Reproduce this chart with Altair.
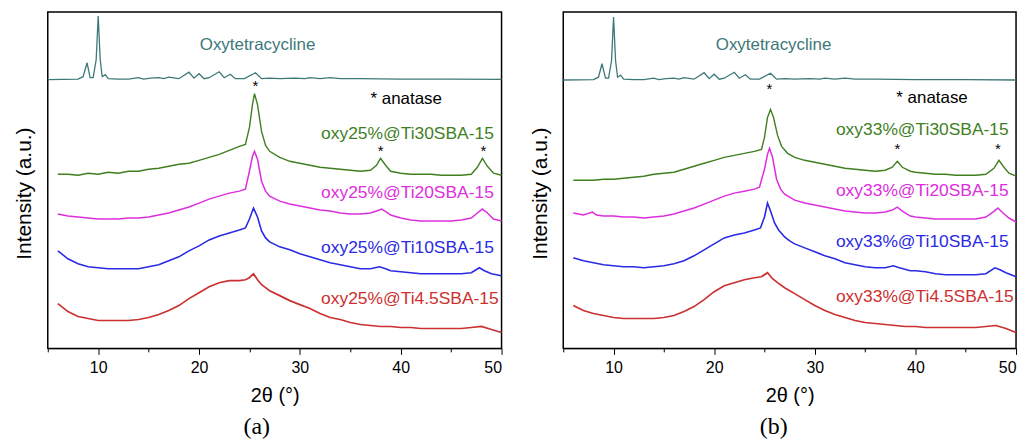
import altair as alt
import pandas as pd

FONT = "Liberation Sans"

# ---------------- Panel (a) ----------------
a_oxy_x = [5.0, 8.0, 8.5, 8.9, 9.2, 9.5, 9.8, 10.0, 10.2, 10.4, 10.7, 11.0, 12.0, 13.0, 14.0, 14.5, 15.2, 16.0, 16.5,
           17.0, 18.0, 19.0, 19.5, 20.0, 20.5, 21.0, 22.0, 22.5, 23.1, 23.6, 24.5, 25.6, 26.2, 27.0, 28.0, 29.5,
           30.5, 31.0, 32.0, 33.0, 34.0, 36.0, 40.0, 45.0, 50.0]
a_oxy_y = [270, 270.5, 273, 287, 272, 272, 290, 334, 290, 273, 275, 271, 270.5, 270.5, 272, 270.5, 271.5, 272, 271,
           272.5, 271, 277.5, 271.5, 276, 271, 272, 278, 272, 275.5, 271, 271, 277, 271, 271.5, 271, 271.5,
           271, 272, 271, 272, 271, 271, 270.5, 270.5, 270.3]

a_green_x = [6, 7, 8, 9, 10, 11, 12, 13, 14, 15, 16, 17, 18, 19, 20, 21, 22, 23, 24, 24.6, 25.0, 25.3, 25.5, 25.8,
             26.2, 26.6, 27, 28, 29, 30, 31, 32, 33, 34, 35, 36, 37, 37.6, 38.0, 38.5, 39, 40, 41, 42, 43, 44, 45,
             46, 47, 47.6, 48.1, 48.6, 49.2, 50]
a_green_y = [175, 175, 174, 176, 175, 177, 176, 178, 178, 180, 181, 183, 185, 186, 189, 192, 195, 199, 203, 205, 222,
             245, 256, 245, 218, 204, 198, 192, 188, 186, 184, 182, 181, 180, 179, 178, 179, 184, 191, 184, 178,
             176, 175, 175, 175, 174, 174, 174, 175, 182, 191, 183, 176, 174]

a_mag_x = [6, 7, 8, 9, 10, 11, 12, 13, 14, 15, 16, 17, 18, 19, 20, 21, 22, 23, 24, 24.6, 25.0, 25.3, 25.5, 25.8,
           26.2, 26.6, 27, 28, 29, 30, 31, 32, 33, 34, 35, 36, 37, 37.6, 38.1, 38.6, 39, 40, 41, 42, 43, 44, 45,
           46, 47, 47.6, 48.1, 48.6, 49.2, 50]
a_mag_y = [135, 133, 132, 131, 130, 130, 130, 131, 131, 132, 134, 136, 139, 142, 146, 150, 153, 156, 158, 160, 178,
           193, 198, 190, 168, 158, 153, 148, 145, 143, 141, 139, 138, 136, 135, 135, 136, 138, 140, 137, 134,
           131, 129, 128, 128, 128, 128, 129, 131, 136, 140, 136, 130, 128]

a_blue_x = [6, 7, 8, 9, 10, 11, 12, 13, 14, 15, 16, 17, 18, 19, 20, 21, 22, 23, 24, 24.6, 25.0, 25.4, 25.8, 26.2,
            26.6, 27, 28, 29, 30, 31, 32, 33, 34, 35, 36, 37, 37.9, 38.5, 39, 40, 41, 42, 43, 44, 45, 46, 47, 47.8,
            48.3, 49, 50]
a_blue_y = [98, 90, 85, 82, 81, 80, 80, 80, 80, 82, 84, 88, 92, 98, 103, 109, 113, 116, 119, 121, 130, 141, 132,
            118, 111, 107, 102, 99, 95, 92, 89, 86, 84, 82, 80, 80, 82, 80, 78, 77, 76, 75, 75, 75, 75, 75, 76, 81,
            78, 75, 73]

a_red_x = [6, 7, 8, 9, 10, 11, 12, 13, 14, 15, 16, 17, 18, 19, 20, 21, 22, 23, 24, 24.6, 25.0, 25.4, 25.8, 26.2,
           26.6, 27, 28, 29, 30, 31, 32, 33, 34, 35, 36, 37, 38, 39, 40, 41, 42, 43, 44, 45, 46, 47, 48, 49, 50]
a_red_y = [45, 37, 32, 30, 28, 28, 28, 28, 29, 31, 34, 38, 43, 50, 56, 62, 66, 68, 68, 69, 71, 75, 69, 64, 61, 58,
           53, 48, 44, 40, 35, 31, 29, 26, 24, 23, 22, 22, 21, 21, 20, 20, 20, 20, 20, 21, 22, 19, 16]

# ---------------- Panel (b) ----------------
b_oxy_x = [5.0, 8.0, 8.5, 8.85, 9.2, 9.5, 9.8, 10.0, 10.2, 10.4, 10.7, 11.0, 12.0, 13.0, 14.0, 14.5, 15.2, 16.0,
           16.5, 17.0, 18.0, 19.0, 19.5, 20.0, 20.5, 21.0, 22.0, 22.5, 23.1, 23.6, 24.5, 25.6, 26.2, 27.0, 28.0,
           29.5, 30.5, 31.0, 32.0, 33.0, 34.0, 36.0, 40.0, 45.0, 50.0]
b_oxy_y = [269.7, 270, 272.5, 286, 271.5, 271.5, 289, 333, 289, 272.5, 274.5, 270.5, 270, 270, 271.5, 270,
           271, 271.5, 270.5, 272, 270.5, 277, 271, 275.5, 270.5, 271.5, 277.5, 271.5, 275, 270.5, 270.5, 276.5,
           270.5, 271, 270.5, 271, 270.5, 271.5, 270.5, 271.5, 270.5, 270.5, 270, 270, 269.7]

b_green_x = [6, 7, 8, 9, 10, 11, 12, 13, 14, 15, 16, 17, 18, 19, 20, 21, 22, 23, 24, 24.7, 25.0, 25.3, 25.6, 25.9,
             26.3, 26.7, 27.3, 28, 29, 30, 31, 32, 33, 34, 35, 36, 37, 37.7, 38.2, 38.7, 39.5, 40, 41, 42, 43, 44,
             45, 46, 47, 47.8, 48.3, 48.8, 49.3, 50]
b_green_y = [169, 169, 169, 170, 170, 171, 172, 173, 175, 176, 177, 180, 183, 186, 189, 192, 194, 196, 198, 200, 212,
             232, 240, 232, 214, 203, 196, 192, 189, 187, 185, 183, 181, 180, 179, 178, 179, 182, 188, 182, 178,
             177, 176, 175, 175, 174, 174, 174, 175, 181, 189, 182, 176, 173]

b_mag_x = [6, 7, 7.9, 8.3, 9, 10, 11, 12, 13, 14, 15, 16, 17, 18, 19, 20, 21, 22, 23, 24, 24.5, 25.0, 25.3, 25.5,
           25.8, 26.2, 26.6, 27, 28, 29, 30, 31, 32, 33, 34, 35, 36, 37, 37.7, 38.2, 38.7, 39.5, 40, 41, 42, 43,
           44, 45, 46, 47, 47.7, 48.2, 48.7, 49.3, 50]
b_mag_y = [136, 134, 137, 134, 133, 133, 132, 132, 131, 132, 133, 135, 138, 141, 145, 149, 153, 156, 158, 160, 162,
           180, 195, 201, 192, 170, 160, 155, 149, 146, 144, 142, 140, 138, 137, 136, 136, 137, 139, 142, 138,
           133, 132, 131, 130, 130, 130, 130, 130, 132, 137, 141, 136, 131, 127]

b_blue_x = [6, 7, 8, 9, 10, 11, 12, 13, 14, 15, 16, 17, 18, 19, 20, 21, 22, 23, 24, 24.6, 25.0, 25.3, 25.6, 26.0,
            26.4, 27, 27.5, 28, 29, 30, 31, 32, 33, 34, 35, 36, 37, 37.8, 38.4, 39.5, 40, 41, 42, 43, 44, 45, 46,
            47, 47.9, 48.4, 49, 50]
b_blue_y = [91, 88, 86, 84, 83, 82, 82, 81, 82, 83, 85, 88, 93, 99, 105, 111, 114, 116, 119, 121, 132, 146, 138,
            126, 119, 112, 108, 105, 101, 97, 93, 90, 86, 84, 82, 81, 81, 83, 81, 78, 78, 77, 75, 74, 74, 74, 74,
            75, 81, 79, 76, 72]

b_red_x = [6, 7, 8, 9, 10, 11, 12, 13, 14, 15, 16, 17, 18, 19, 20, 21, 22, 23, 24, 24.7, 25.3, 25.8, 26.3, 27, 28,
           29, 30, 31, 32, 33, 34, 35, 36, 37, 38, 39, 40, 41, 42, 43, 44, 45, 46, 47, 48, 49, 50]
b_red_y = [43, 38, 35, 33, 31, 30, 30, 30, 30, 31, 33, 37, 42, 49, 57, 63, 66, 69, 71, 72, 76, 70, 66, 61, 55, 49,
           43, 38, 34, 31, 28, 26, 25, 24, 23, 22, 22, 21, 21, 21, 21, 21, 21, 22, 23, 20, 16]

SERIES = ["oxy", "green", "magenta", "blue", "red"]
COLORS = ["#3d7878", "#3f7f1f", "#dd2edd", "#2a2ae4", "#cc3030"]
WIDTHS = [1.3, 1.7, 1.7, 1.7, 1.7]

a_labels = ["oxy25%@Ti30SBA-15", "oxy25%@Ti20SBA-15", "oxy25%@Ti10SBA-15", "oxy25%@Ti4.5SBA-15"]
a_label_y = [215, 156.3, 101.3, 49.7]
b_labels = ["oxy33%@Ti30SBA-15", "oxy33%@Ti20SBA-15", "oxy33%@Ti10SBA-15", "oxy33%@Ti4.5SBA-15"]
b_label_y = [219.7, 158, 107, 51.3]
label_x = 32.1

a_star_x = [25.6, 38.0, 48.2]
a_star_y = [264, 198, 198]
b_star_x = [25.5, 38.2, 48.2]
b_star_y = [261, 200, 200]

a_anatase = (37.0, 250.3)
b_anatase = (38.1, 252.0)
a_oxylabel = (25.8, 305)
b_oxylabel = (25.9, 305.3)


def lines_df(xs_ys):
    rows = []
    for name, (xs, ys) in zip(SERIES, xs_ys):
        for x, y in zip(xs, ys):
            rows.append({"x": x, "y": y, "s": name})
    return pd.DataFrame(rows)


def panel(xs_ys, labels, label_y, star_x, star_y, anatase, oxylabel, tag, width, tag_dx):
    xsc = alt.Scale(domain=[5, 50], nice=False, zero=False)
    ysc = alt.Scale(domain=[0, 338], nice=False, zero=False)
    color = alt.Color("s:N", scale=alt.Scale(domain=SERIES, range=COLORS), legend=None)
    xax = alt.Axis(title="2θ (°)", values=[5, 10, 15, 20, 25, 30, 35, 40, 45, 50],
                   labelExpr="datum.value % 10 == 0 ? datum.label : ''",
                   grid=False,
                   tickSize={"condition": {"test": "datum.value % 10 === 0", "value": 6}, "value": 3.5},
                   tickColor="black", domainColor="black",
                   labelFont=FONT, labelFontSize=16, labelColor="black", labelPadding=5,
                   titleFont=FONT, titleFontSize=20, titleFontWeight="normal", titleColor="black",
                   titlePadding=10)
    yax = alt.Axis(title="Intensity (a.u.)", labels=False, ticks=False, domain=False, grid=False,
                   titleFont=FONT, titleFontSize=21, titleFontWeight="normal", titleColor="black",
                   titlePadding=13, titleY=182)

    base_lines = alt.Chart(lines_df(xs_ys)).mark_line().encode(
        x=alt.X("x:Q", scale=xsc, axis=xax),
        y=alt.Y("y:Q", scale=ysc, axis=yax),
        color=color,
        strokeWidth=alt.StrokeWidth("s:N", scale=alt.Scale(domain=SERIES, range=WIDTHS), legend=None),
        detail="s:N",
    )

    lab_df = pd.DataFrame({"x": [label_x] * 4, "y": label_y, "t": labels, "s": SERIES[1:]})
    labs = alt.Chart(lab_df).mark_text(align="left", baseline="middle", font=FONT, fontSize=17.5).encode(
        x=alt.X("x:Q", scale=xsc), y=alt.Y("y:Q", scale=ysc), text="t:N", color=color)

    oxy_df = pd.DataFrame({"x": [oxylabel[0]], "y": [oxylabel[1]], "t": ["Oxytetracycline"], "s": ["oxy"]})
    oxyt = alt.Chart(oxy_df).mark_text(align="center", baseline="middle", font=FONT, fontSize=17).encode(
        x=alt.X("x:Q", scale=xsc), y=alt.Y("y:Q", scale=ysc), text="t:N", color=color)

    an_df = pd.DataFrame({"x": [anatase[0]], "y": [anatase[1]], "t": ["* anatase"]})
    ant = alt.Chart(an_df).mark_text(align="left", baseline="middle", font=FONT, fontSize=17,
                                     color="black").encode(
        x=alt.X("x:Q", scale=xsc), y=alt.Y("y:Q", scale=ysc), text="t:N")

    st_df = pd.DataFrame({"x": star_x, "y": star_y, "t": ["*"] * len(star_x)})
    stars = alt.Chart(st_df).mark_text(align="center", baseline="middle", font=FONT, fontSize=15,
                                       color="black").encode(
        x=alt.X("x:Q", scale=xsc), y=alt.Y("y:Q", scale=ysc), text="t:N")

    return alt.layer(base_lines, labs, oxyt, ant, stars).properties(
        width=width, height=338,
        title=alt.TitleParams(tag, orient="bottom", font="Liberation Serif", fontSize=24,
                              fontWeight="normal", color="black", offset=10, dx=tag_dx, anchor="middle"),
    )


pa = panel([(a_oxy_x, a_oxy_y), (a_green_x, a_green_y), (a_mag_x, a_mag_y), (a_blue_x, a_blue_y),
            (a_red_x, a_red_y)], a_labels, a_label_y, a_star_x, a_star_y, a_anatase, a_oxylabel, "(a)", 456, -18)
pb = panel([(b_oxy_x, b_oxy_y), (b_green_x, b_green_y), (b_mag_x, b_mag_y), (b_blue_x, b_blue_y),
            (b_red_x, b_red_y)], b_labels, b_label_y, b_star_x, b_star_y, b_anatase, b_oxylabel, "(b)", 455, -16)

chart = alt.hconcat(pa, pb, spacing=22).properties(
    padding={"left": 13, "top": 10, "right": 3, "bottom": 0},
    background="white",
).configure_view(stroke="black", strokeWidth=1.5)

chart.save("out.html", embed_options={"renderer": "svg", "actions": False})
